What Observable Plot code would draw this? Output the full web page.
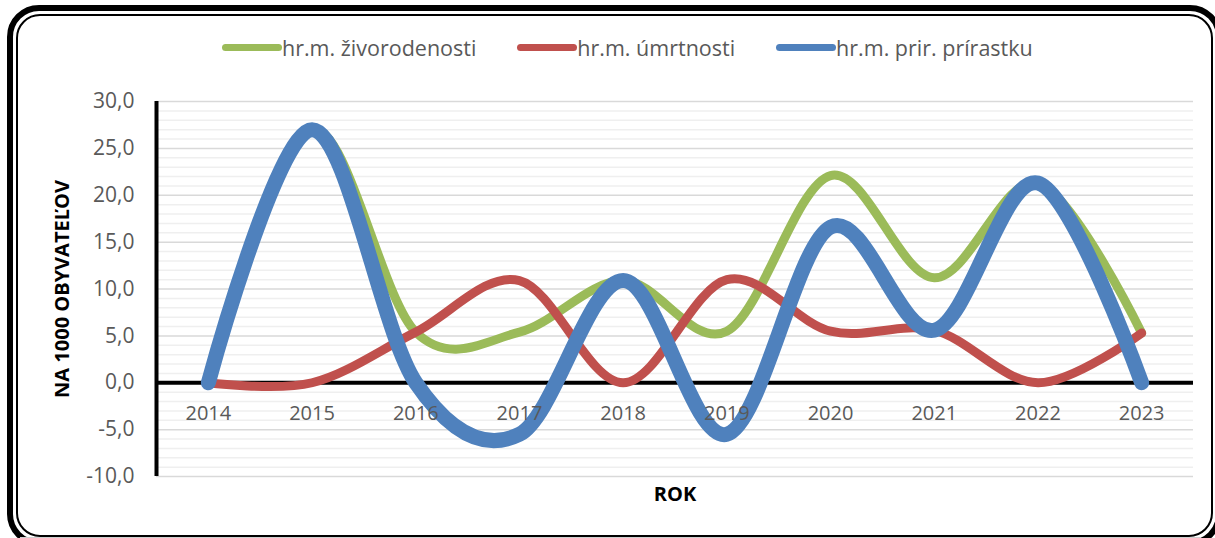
<!DOCTYPE html>
<html>
<head>
<meta charset="utf-8">
<script src="https://cdn.jsdelivr.net/npm/d3@7"></script>
<script src="https://cdn.jsdelivr.net/npm/@observablehq/plot@0.6"></script>
<style>
  html, body { margin: 0; padding: 0; background: #fff; }
  #wrap { position: relative; width: 1215px; height: 538px; overflow: hidden; font-family: "Open Sans", sans-serif; }
  #frameOuter { position: absolute; left: 7px; top: 5px; right: -7px; bottom: -8px; border: 6px solid #000; border-radius: 32px; }
  #frameInner { position: absolute; left: 16px; top: 14px; right: 2px; bottom: 1px; border: 2px solid #000; border-radius: 24px; }
  #bottomLine { position: absolute; left: 20px; right: 15px; top: 537px; height: 1px; background: #cfcfcf; }
  #legend { position: absolute; left: 222px; top: 0; height: 70px; display: flex; align-items: center; gap: 41px; padding-top: 24px; box-sizing: border-box; }
  .item { display: flex; align-items: center; color: #595959; font-size: 21.5px; white-space: nowrap; }
  .sw { width: 60px; height: 7px; border-radius: 4px; }
  #chart { position: absolute; left: 0; top: 70px; }
</style>
</head>
<body>
<div id="wrap">
  <div id="frameOuter"></div>
  <div id="frameInner"></div>
  <div id="bottomLine"></div>
  <div id="legend"></div>
  <div id="chart"></div>
</div>
<script>
// ---- data ----
const years = [2014, 2015, 2016, 2017, 2018, 2019, 2020, 2021, 2022, 2023];
const births = [0, 27.0, 5.4, 5.4, 10.9, 5.5, 22.1, 11.2, 21.3, 5.3];     // hr.m. živorodenosti
const deaths = [0, 0, 5.4, 10.9, 0, 11.0, 5.5, 5.6, 0, 5.3];              // hr.m. úmrtnosti
const increase = [0, 27.0, 0, -5.5, 10.9, -5.5, 16.6, 5.6, 21.3, 0];     // hr.m. prir. prírastku
const seriesNames = ["hr.m. živorodenosti", "hr.m. úmrtnosti", "hr.m. prir. prírastku"];
const seriesColors = ["#9bbb59", "#c0504d", "#4f81bd"];
const seriesWidths = [9, 9, 15];
const yTicks = [-10, -5, 0, 5, 10, 15, 20, 25, 30];
const yMinorTicks = d3.range(-10, 31, 1).filter(v => v % 5 !== 0);
const yTitle = "NA 1000 OBYVATEĽOV";
const xTitle = "ROK";

const seriesValues = [births, deaths, increase];
const rows = seriesValues.map((vals, i) => years.map((yr, j) => ({year: yr, value: vals[j], series: seriesNames[i]})));

// ---- legend ----
const legend = document.getElementById("legend");
seriesNames.forEach((name, i) => {
  const it = document.createElement("div");
  it.className = "item";
  const sw = document.createElement("div");
  sw.className = "sw";
  sw.style.background = seriesColors[i];
  const tx = document.createElement("span");
  tx.textContent = name;
  it.appendChild(sw);
  it.appendChild(tx);
  legend.appendChild(it);
});

const fmt = d => d.toFixed(1).replace(".", ",");

const chart = Plot.plot({
  width: 1215,
  height: 468,
  marginTop: 31,
  marginBottom: 62,
  marginLeft: 156,
  marginRight: 22,
  style: {fontFamily: "'Open Sans', sans-serif", fontSize: "20px", color: "#595959", background: "transparent", overflow: "visible"},
  x: {domain: [2013.5, 2023.5], axis: null},
  y: {domain: [-10, 30], axis: null},
  marks: [
    Plot.ruleY(yMinorTicks, {stroke: "#efefef", strokeWidth: 1.5}),
    Plot.ruleY(yTicks, {stroke: "#d9d9d9", strokeWidth: 1.5}),
    Plot.axisY({ticks: yTicks, tickSize: 0, tickPadding: 22, tickFormat: fmt, label: null, fontSize: 21}),
    Plot.ruleY([0], {stroke: "#000", strokeWidth: 4}),
    Plot.ruleX([2013.5], {y1: -10, y2: 30, stroke: "#000", strokeWidth: 4}),
    ...rows.map((r, i) => Plot.line(r, {
      x: "year", y: "value", stroke: seriesColors[i], strokeWidth: seriesWidths[i],
      curve: "cardinal", tension: 0, strokeLinecap: "round", strokeLinejoin: "round"
    })),
    Plot.text(years, {x: d => d, y: 0, dy: 31, text: d => String(d), fill: "#595959", textAnchor: "middle", lineAnchor: "middle"}),
    Plot.text([yTitle], {frameAnchor: "left", dx: -94, rotate: -90, text: d => d, fontWeight: "bold", fill: "#000", textAnchor: "middle", lineAnchor: "middle"}),
    Plot.text([xTitle], {frameAnchor: "bottom", dy: 18, text: d => d, fontWeight: "bold", fill: "#000", textAnchor: "middle", lineAnchor: "middle"})
  ]
});
document.getElementById("chart").appendChild(chart);
</script>
</body>
</html>
